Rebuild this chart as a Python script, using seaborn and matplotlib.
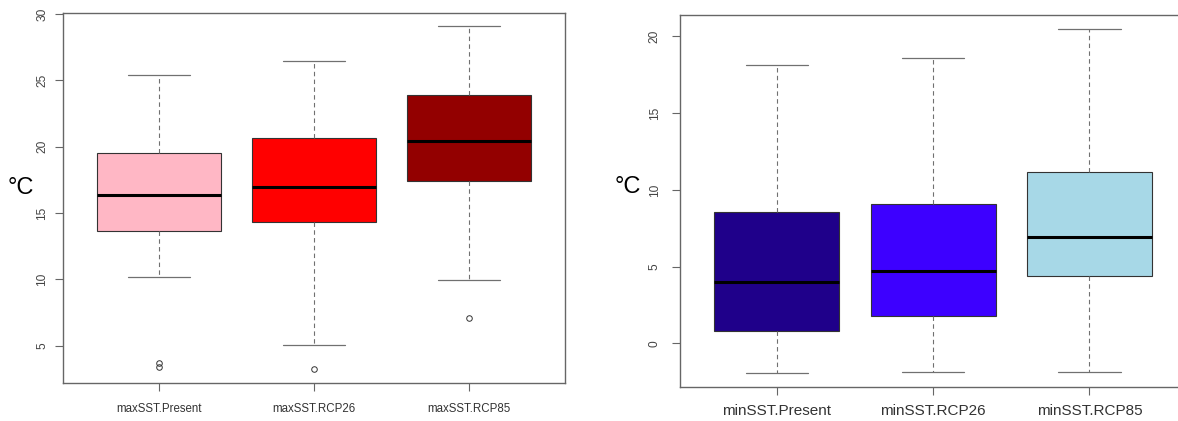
import numpy as np
import pandas as pd
import matplotlib
matplotlib.use("Agg")
import matplotlib.pyplot as plt
import seaborn as sns

# Summer maximum sea-surface temperature, five-number summaries per scenario
max_groups = ["maxSST.Present", "maxSST.RCP26", "maxSST.RCP85"]
max_whisker_low = [10.15, 5.05, 9.95]
max_q1 = [13.65, 14.35, 17.42]
max_median = [16.35, 17.0, 20.42]
max_q3 = [19.55, 20.68, 23.9]
max_whisker_high = [25.38, 26.48, 29.08]
max_outliers = [[3.4, 3.7], [3.25], [7.07]]
max_colors = ["#FFB7C5", "#FF0000", "#930000"]

# Winter minimum sea-surface temperature
min_groups = ["minSST.Present", "minSST.RCP26", "minSST.RCP85"]
min_whisker_low = [-1.92, -1.89, -1.86]
min_q1 = [0.83, 1.80, 4.37]
min_median = [3.98, 4.74, 6.95]
min_q3 = [8.57, 9.11, 11.17]
min_whisker_high = [18.16, 18.62, 20.5]
min_outliers = [[], [], []]
min_colors = ["#1F008A", "#3D00FF", "#A7D8E7"]

max_yticks = [5, 10, 15, 20, 25, 30]
min_yticks = [0, 5, 10, 15, 20]


def sample_from_summary(lo, q1, med, q3, hi, outliers):
    """Observations whose linear-interpolated quartiles and 1.5*IQR whiskers
    reproduce the given summary exactly."""
    low_out = sorted(v for v in outliers if v < q1)
    high_out = sorted(v for v in outliers if v > q3)
    k = max(len(low_out), len(high_out)) + 1
    vals = (low_out + [lo] * (k - len(low_out))
            + [q1] * k + [med] + [q3] * k
            + [hi] * (k - len(high_out)) + high_out)
    return vals


def long_table(groups, lo, q1, med, q3, hi, outs):
    rows = []
    for i, g in enumerate(groups):
        for v in sample_from_summary(lo[i], q1[i], med[i], q3[i], hi[i], outs[i]):
            rows.append({"group": g, "value": v})
    return pd.DataFrame(rows)


sns.set_theme(style="ticks")
plt.rcParams["font.family"] = ["Liberation Sans", "DejaVu Sans"]

fig = plt.figure(figsize=(11.78, 4.21), dpi=100)
ax1 = fig.add_axes([0.0537, 0.091, 0.4259, 0.879])
ax2 = fig.add_axes([0.5772, 0.0815, 0.4298, 0.8829])

frame_col = "#666666"
line_col = "#707070"

panels = [
    (ax1, max_groups, long_table(max_groups, max_whisker_low, max_q1, max_median,
                                 max_q3, max_whisker_high, max_outliers),
     max_colors, (2.22, 30.11), max_yticks, 8.3, 5.0, 9.0),
    (ax2, min_groups, long_table(min_groups, min_whisker_low, min_q1, min_median,
                                 min_q3, min_whisker_high, min_outliers),
     min_colors, (-2.82, 21.40), min_yticks, 11, 8.0, 7.0),
]

for ax, groups, df, colors, ylim, yticks, xfs, ypad, xpad in panels:
    sns.boxplot(
        data=df, x="group", y="value", hue="group", order=groups,
        hue_order=groups, palette=dict(zip(groups, colors)), saturation=1,
        width=0.8, whis=1.5, linecolor="#333333", linewidth=0.8,
        fliersize=4, legend=False, ax=ax,
        whiskerprops=dict(color=line_col, linestyle=(0, (4, 3)), linewidth=0.8),
        capprops=dict(color=line_col, linewidth=0.9),
        medianprops=dict(color="black", linewidth=2.2),
        flierprops=dict(marker="o", markerfacecolor="none",
                        markeredgecolor="#333333", markeredgewidth=0.7),
        boxprops=dict(edgecolor="#333333", linewidth=0.8),
    )
    ax.set_xlim(-0.62, 2.62)
    ax.set_ylim(*ylim)
    ax.set_yticks(yticks)
    ax.set_yticklabels([str(t) for t in yticks], rotation=90, va="center",
                       fontsize=8.6, color="#444444")
    ax.set_xticks(range(len(groups)))
    ax.set_xticklabels(groups, fontsize=xfs, color="#333333")
    ax.set_xlabel("")
    ax.set_ylabel("")
    ax.tick_params(axis="both", length=5.8, width=0.8, color=frame_col)
    ax.tick_params(axis="y", pad=ypad)
    ax.tick_params(axis="x", pad=xpad)
    for s in ax.spines.values():
        s.set_color(frame_col)
        s.set_linewidth(1.0)
    ax.grid(False)

fig.text(21 / 1178, 1 - 187.5 / 421, "°C", fontsize=17, ha="center",
         va="center", color="black")
fig.text(628 / 1178, 1 - 187 / 421, "°C", fontsize=17, ha="center",
         va="center", color="black")

fig.savefig("out.png", dpi=100)
